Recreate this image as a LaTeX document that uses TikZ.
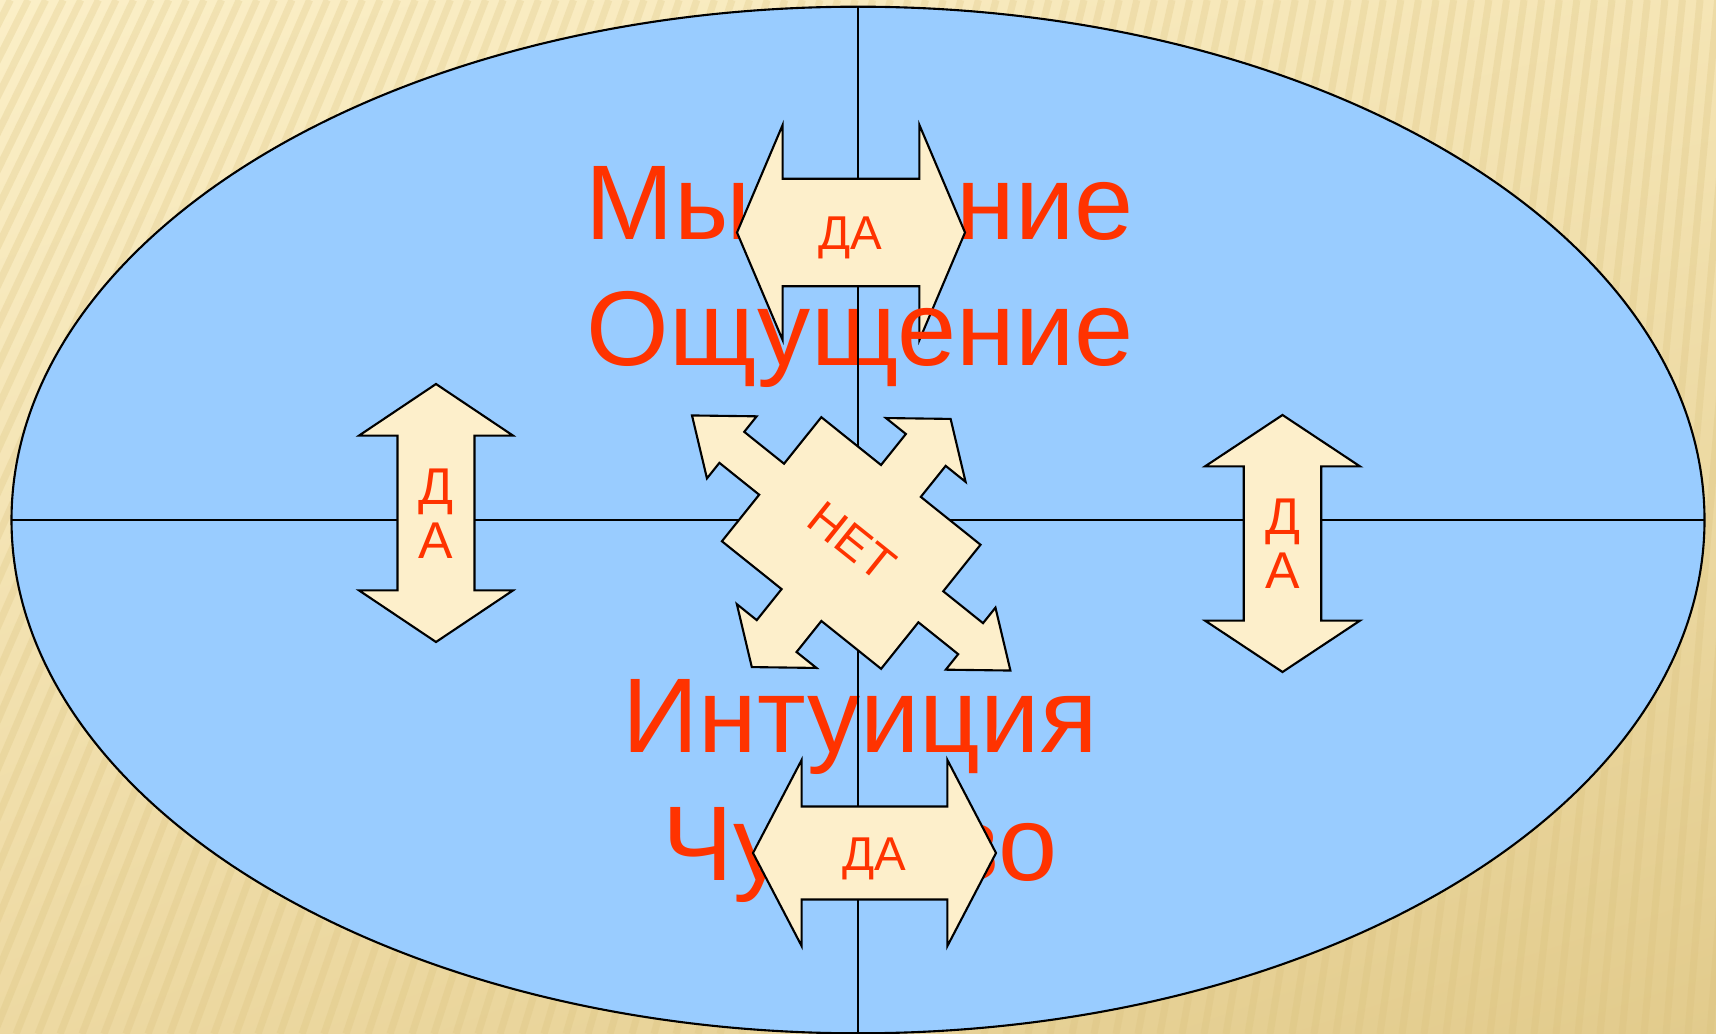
\documentclass[tikz,border=0pt]{standalone}
\usepackage{fontspec}
\setmainfont{Liberation Sans}
\usetikzlibrary{shapes.geometric, shadings}
\definecolor{skyblue}{HTML}{99CCFF}
\definecolor{cream}{HTML}{FDEFCB}
\definecolor{redword}{HTML}{FF3300}
\definecolor{bgul}{HTML}{FBEFC7}
\definecolor{bgur}{HTML}{F5E5B5}
\definecolor{bgll}{HTML}{EDD9A2}
\definecolor{bglr}{HTML}{E2CB8C}
\definecolor{bgline}{HTML}{D9C07A}
\newcommand{\dblarrow}[5]{\filldraw[arrowbox, shift={(#1,#2)}, rotate=#5, xscale=#3, yscale=#4] (-1,0) -- (-.6,1) -- (-.6,.5) -- (.6,.5) -- (.6,1) -- (1,0) -- (.6,-1) -- (.6,-.5) -- (-.6,-.5) -- (-.6,-1) -- cycle;}
\tikzset{
  arrowbox/.style={fill=cream, draw=black, line width=0.6pt, line join=miter},
  axis/.style={draw=black, line width=0.6pt},
  bigword/.style={text=redword, inner sep=0pt, anchor=base, font=\fontsize{30.2}{36}\selectfont},
  yesword/.style={text=redword, inner sep=0pt, font=\fontsize{13.5}{16}\selectfont},
  sideword/.style={text=redword, inner sep=0pt, align=center, font=\fontsize{14.7}{15.4}\selectfont}
}

\begin{document}
\begin{tikzpicture}[x=0.01cm, y=-0.01cm]
    \useasboundingbox (0,0) rectangle (1716,1034);
    % background
    \begin{scope}
    \clip (0,0) rectangle (1716,1034);
    \shade[upper left=bgul, upper right=bgur, lower left=bgll, lower right=bglr] (0,0) rectangle (1716,1034);
    \foreach \x in {-600,-578,...,1716}
        \draw[bgline, line width=2pt, opacity=.25] (\x,1034) -- ({\x+420-0.2*\x},0);
    \end{scope}
    % oval and axes
    \node[ellipse, draw=black, line width=0.6pt, fill=skyblue, inner sep=0pt, outer sep=0pt,
          minimum width=16.92cm, minimum height=10.26cm] (oval) at (858,520) {};
    \node[bigword] (think) at (860,240) {Мышление};
    \node[bigword] (intuit) at (860,752) {Интуиция};
    \node[bigword] (feel) at (860,880) {Чувство};
    \draw[axis] (oval.north) -- (oval.south);
    \draw[axis] (oval.west) -- (oval.east);
    % arrows
    \dblarrow{851}{232.5}{114}{107.5}{0}
    \dblarrow{874.5}{853}{121.5}{93}{0}
    \dblarrow{436}{513}{129}{77}{90}
    \dblarrow{1282.5}{543.5}{128.5}{77.5}{90}
    \filldraw[arrowbox, shift={(851.2,543)}, rotate=-38.7, xscale=204, yscale=159]
        (1,0) -- (.75,.25) -- (.75,.125) -- (.5,.125) -- (.5,.5) -- (.125,.5) -- (.125,.75) -- (.25,.75)
        -- (0,1) -- (-.25,.75) -- (-.125,.75) -- (-.125,.5) -- (-.5,.5) -- (-.5,.125) -- (-.75,.125) -- (-.75,.25)
        -- (-1,0) -- (-.75,-.25) -- (-.75,-.125) -- (-.5,-.125) -- (-.5,-.5) -- (-.125,-.5) -- (-.125,-.75) -- (-.25,-.75)
        -- (0,-1) -- (.25,-.75) -- (.125,-.75) -- (.125,-.5) -- (.5,-.5) -- (.5,-.125) -- (.75,-.125) -- (.75,-.25) -- cycle;
    \node[yesword, anchor=base] (yestop) at (850.5,250) {ДА};
    \node[yesword, anchor=base] (yesbottom) at (874,870) {ДА};
    \node[sideword] (yesleft) at (436,514) {Д\\А};
    \node[sideword] (yesright) at (1283,544) {Д\\А};
    \node[text=redword, inner sep=0pt, rotate=-38.7, font=\fontsize{13.5}{16}\selectfont] (nomid) at (852,541) {НЕТ};
    % second line sits over the arrow
    \node[bigword] (sense) at (860,366) {Ощущение};
    \coordinate (shaftlow) at (858,287);
    \coordinate (quadtop) at (858,447);
    \draw[axis] (shaftlow) -- (quadtop);
\end{tikzpicture}
\end{document}
